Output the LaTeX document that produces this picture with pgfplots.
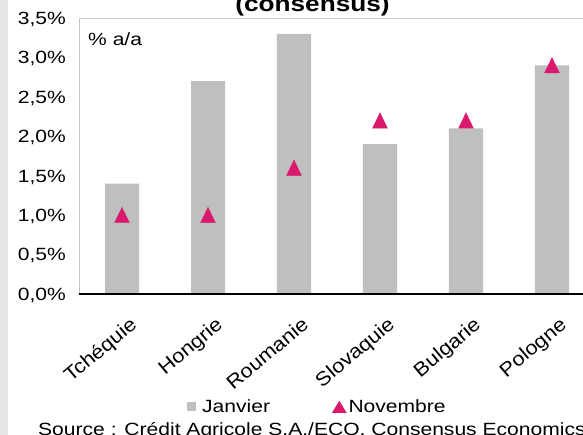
\documentclass[border=0pt]{standalone}
\usepackage{fontspec}
\setmainfont[FakeStretch=1.19]{Liberation Sans}
\newfontfamily\rotfont[FakeStretch=1.12]{Liberation Sans}
\usepackage{pgfplots}
\pgfplotsset{compat=1.18}
\definecolor{bargray}{HTML}{BFBFBF}
\definecolor{mag}{HTML}{D9186E}
\definecolor{strip}{HTML}{E6E6E6}
\definecolor{frame}{HTML}{C8C8C8}
\newcommand{\fs}{\fontsize{17.7}{20}\selectfont}
\begin{document}
\begin{tikzpicture}[x=1pt,y=1pt]
\fill[strip] (0,0) rectangle (8,435);
\begin{axis}[
  at={(79pt,141pt)}, anchor=south west,
  scale only axis, width=516pt, height=276pt,
  xmin=-0.5, xmax=5.5, ymin=0, ymax=3.5,
  axis line style={draw=frame, line width=0.8pt},
  tick style={draw=none},
  xtick={0,1,2,3,4,5},
  xticklabels={Tchéquie,Hongrie,Roumanie,Slovaquie,Bulgarie,Pologne},
  ytick={0,0.5,1,1.5,2,2.5,3,3.5},
  yticklabels={{0,0\%},{0,5\%},{1,0\%},{1,5\%},{2,0\%},{2,5\%},{3,0\%},{3,5\%}},
  yticklabel style={font=\fs, inner sep=0pt, anchor=base east, xshift=-13pt, yshift=-6.3pt},
  xticklabel style={font=\rotfont\fontsize{19.5}{21}\selectfont, inner sep=0pt, xshift=6.6pt, yshift=-21.5pt, rotate=40, anchor=north east},
  legend columns=2,
  legend style={at={(0.2093,-0.4094)}, anchor=west, draw=none, fill=none, inner sep=0pt,
    font=\fs, nodes={inner sep=0pt, anchor=west},
    /tikz/every odd column/.append style={column sep=2pt},
    /tikz/every even column/.append style={column sep=62pt}},
  clip=false,
]
\addplot[ybar, bar width=34pt, fill=bargray, draw=none,
  legend image code/.code={\path (0pt,0pt) -- (13pt,0pt);\fill[bargray] (0pt,-4.5pt) rectangle (9pt,4.5pt);}]
  coordinates {(0,1.4) (1,2.7) (2,3.3) (3,1.9) (4,2.1) (5,2.9)};
\addlegendentry{Janvier}
\addplot[only marks, mark=triangle*, mark size=8.5pt, color=mag,
  mark options={yshift=-2.5pt, yscale=1.2},
  legend image code/.code={\fill[mag] (0pt,-5.8pt) -- (14pt,-5.8pt) -- (7pt,5.8pt) -- cycle;}]
  coordinates {(0,1.0) (1,1.0) (2,1.6) (3,2.2) (4,2.2) (5,2.9)};
\addlegendentry{Novembre}
\draw[black, line width=1.3pt] (axis description cs:0,0) -- (axis description cs:1,0);
\end{axis}
\node[anchor=base west, inner sep=0pt, font=\fs] at (88,389) {\% a/a};
\node[anchor=base, inner sep=0pt, font=\fontsize{22}{24}\selectfont\bfseries] at (312.5,423.5) {(consensus)};
\node[anchor=base west, inner sep=0pt, font=\fs] at (38,-0.5) {Source : Crédit Agricole S.A./ECO, Consensus Economics};
\pgfresetboundingbox
\useasboundingbox (0,0) rectangle (583,435);
\end{tikzpicture}
\end{document}
